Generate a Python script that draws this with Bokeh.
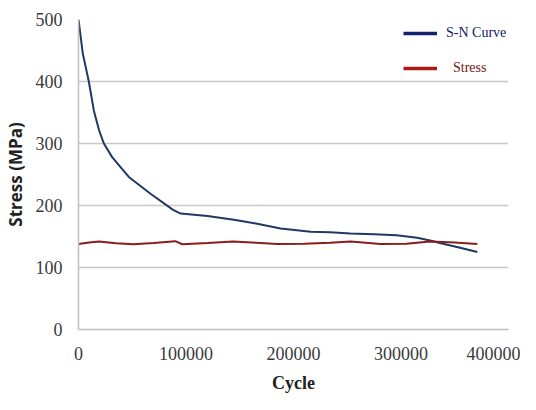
from bokeh.plotting import figure
from bokeh.models import Range1d, Legend, LegendItem, FixedTicker
from bokeh.embed import file_html
from bokeh.resources import INLINE

# S-N curve (cycle, stress MPa)
sn_cycles = [0, 4000, 9600, 14300, 19000, 23600, 31300, 46800, 67000, 88000, 95000,
             120000, 144500, 165000, 188000, 216000, 234000, 253000, 275000, 296000,
             315000, 327000, 340000, 355000, 371000]
sn_stress = [500, 445, 400, 353, 322, 300, 278, 246, 219, 193, 187,
             183, 177, 171, 163, 157.5, 157, 155, 153.5, 152,
             148, 143.5, 138, 132, 125]

# Applied stress (cycle, stress MPa)
st_cycles = [0, 10000, 19000, 35000, 51000, 70000, 90000, 96500, 120000, 144000,
             165000, 185000, 210000, 234000, 253000, 281000, 305000, 327000, 350000, 371000]
st_stress = [138, 140.5, 142, 139, 137.5, 139.5, 142.5, 137.5, 139.5, 142,
             140, 138, 138.5, 140, 142, 138, 138.5, 142, 140.5, 138]

x_ticks = [0, 100000, 200000, 300000, 400000]
y_ticks = [0, 100, 200, 300, 400, 500]

sn_color = "#1f3864"
st_color = "#8b1c1c"

p = figure(width=520, height=398, output_backend="svg", toolbar_location=None,
           x_range=Range1d(0, 400000), y_range=Range1d(0, 500),
           min_border_left=78, min_border_right=12, min_border_top=19, min_border_bottom=69)
p.outline_line_color = None

r1 = p.line(sn_cycles, sn_stress, line_color=sn_color, line_width=2)
r2 = p.line(st_cycles, st_stress, line_color=st_color, line_width=2)
# thicker swatches for the legend only (data kept outside the visible range)
l1 = p.line([-2e6, -1e6], [-100, -100], line_color="#14206e", line_width=3.5)
l2 = p.line([-2e6, -1e6], [-100, -100], line_color="#b01818", line_width=3.5)

p.xaxis.ticker = FixedTicker(ticks=x_ticks)
p.yaxis.ticker = FixedTicker(ticks=y_ticks)
p.xaxis.formatter.use_scientific = False
for ax in (p.xaxis, p.yaxis):
    ax.major_tick_line_color = None
    ax.minor_tick_line_color = None
    ax.major_tick_out = 0
    ax.major_tick_in = 0
    ax.axis_line_color = "#bfbfbf"
    ax.axis_line_width = 1.5
    ax.major_label_text_font = "Liberation Sans Narrow"
    ax.major_label_text_font_size = "18px"
    ax.major_label_text_color = "#3a3a3a"
    ax.axis_label_text_font_style = "bold"
    ax.axis_label_text_color = "#222222"

p.xaxis.major_label_standoff = 17
p.yaxis.major_label_standoff = 16
p.xaxis.axis_label = "Cycle"
p.xaxis.axis_label_text_font = "Liberation Sans Narrow"
p.xaxis.axis_label_text_font_size = "18px"
p.xaxis.axis_label_standoff = 10
p.yaxis.axis_label = "Stress (MPa)"
p.yaxis.axis_label_text_font = "Open Sans"
p.yaxis.axis_label_text_font_size = "17px"
p.yaxis.axis_label_standoff = 6

p.xgrid.grid_line_color = None
p.ygrid.grid_line_color = "#c8c8c8"
p.ygrid.grid_line_width = 1.5

leg1 = Legend(items=[LegendItem(label="S-N Curve", renderers=[l1])],
              location=(325, 286), padding=0, margin=0, border_line_color=None,
              background_fill_alpha=0, glyph_width=34, glyph_height=20, label_height=20,
              label_standoff=9, label_text_font="Liberation Serif",
              label_text_font_size="14px", label_text_color="#14206e")
leg2 = Legend(items=[LegendItem(label="Stress", renderers=[l2])],
              location=(325, 251), padding=0, margin=0, border_line_color=None,
              background_fill_alpha=0, glyph_width=34, glyph_height=20, label_height=20,
              label_standoff=16, label_text_font="Liberation Serif",
              label_text_font_size="14px", label_text_color="#7a1212")
p.add_layout(leg1, "center")
p.add_layout(leg2, "center")

open("out.html", "w").write(file_html(p, INLINE))
